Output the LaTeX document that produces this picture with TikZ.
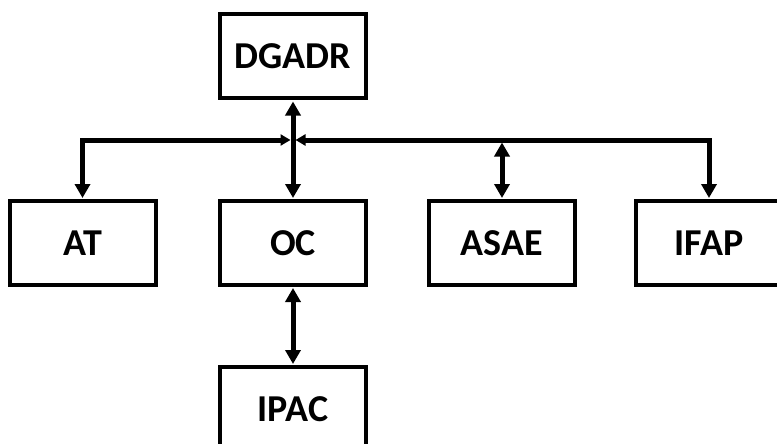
\documentclass[tikz,border=0pt]{standalone}
\usepackage{fontspec}
\setmainfont{Carlito}
\usepackage{tikz}
\usetikzlibrary{arrows.meta,positioning}

\begin{document}
\begin{tikzpicture}[
    every node/.style={font=\fontsize{38}{42}\selectfont\bfseries},
    box/.style={draw,line width=4pt,minimum width=146pt,minimum height=84pt,
                inner sep=0pt,align=center},
    arr/.style={line width=5pt,shorten <=1pt,shorten >=1pt},
    x=1pt,y=-1pt,
  ]
    \useasboundingbox (0,0) rectangle (777,444);
    \node[box] (dgadr) at (293,56.5) {DGADR};
    \node[box] (at)    at (82.5,243) {AT};
    \node[box] (oc)    at (293,243)  {OC};
    \node[box] (asae)  at (502,243)  {ASAE};
    \node[box] (ifap)  at (709,243)  {IFAP};
    \node[box] (ipac)  at (293,409)  {IPAC};
    % horizontal bus
    \coordinate (hub) at (293,140);
    \coordinate (tap) at (asae |- hub);
    \draw[arr,{Triangle[length=10pt,width=11pt]}-{Triangle[length=14pt,width=15pt]},shorten <=2.5pt] (hub) -| (at);
    \draw[arr,{Triangle[length=10pt,width=11pt]}-{Triangle[length=14pt,width=15pt]},shorten <=2.5pt] (hub) -| (ifap);
    \draw[arr,{Triangle[length=14pt,width=15pt]}-{Triangle[length=14pt,width=15pt]},shorten <=2.5pt] (tap) -- (asae);
    \draw[arr,{Triangle[length=14pt,width=15pt]}-{Triangle[length=14pt,width=15pt]}] (dgadr) -- (oc);
    \draw[arr,{Triangle[length=14pt,width=15pt]}-{Triangle[length=14pt,width=15pt]}] (oc) -- (ipac);
  \end{tikzpicture}
\end{document}
